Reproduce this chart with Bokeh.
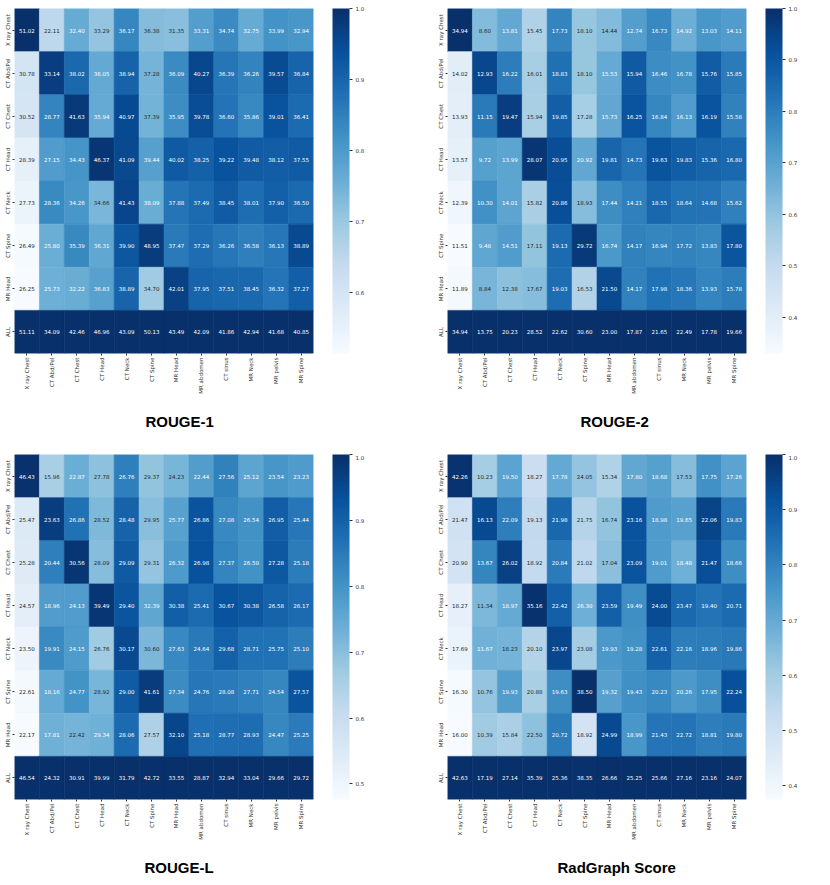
import math
from bokeh.plotting import figure
from bokeh.models import ColumnDataSource, LinearColorMapper, ColorBar, FixedTicker, Title, NumeralTickFormatter
from bokeh.layouts import column, row
from bokeh.core.properties import value
from bokeh.embed import file_html
from bokeh.resources import INLINE

cols = ["X ray Chest", "CT Abd/Pel", "CT Chest", "CT Head", "CT Neck", "CT Spine",
        "MR Head", "MR abdomen", "CT sinus", "MR Neck", "MR pelvis", "MR Spine"]
rows_ = ["X ray Chest", "CT Abd/Pel", "CT Chest", "CT Head", "CT Neck", "CT Spine", "MR Head", "ALL"]

rouge1 = [
    [51.02, 22.11, 32.40, 33.29, 36.17, 36.38, 31.35, 33.31, 34.74, 32.75, 33.99, 32.94],
    [30.78, 33.14, 38.02, 36.05, 38.94, 37.28, 36.09, 40.27, 36.39, 36.26, 39.57, 36.84],
    [30.52, 28.77, 41.63, 35.94, 40.97, 37.39, 35.95, 39.78, 36.60, 35.86, 39.01, 36.41],
    [28.39, 27.15, 34.43, 46.37, 41.09, 39.44, 40.02, 38.25, 39.22, 39.48, 38.12, 37.55],
    [27.73, 28.36, 34.26, 34.66, 41.43, 38.09, 37.88, 37.49, 38.45, 38.01, 37.90, 36.50],
    [26.49, 25.80, 35.39, 36.31, 39.90, 48.95, 37.47, 37.29, 36.26, 36.58, 36.13, 38.89],
    [26.25, 25.73, 32.22, 36.83, 38.89, 34.70, 42.01, 37.95, 37.51, 38.45, 36.32, 37.27],
    [51.11, 34.09, 42.46, 46.96, 43.09, 50.13, 43.49, 42.09, 41.86, 42.94, 41.68, 40.85],
]
rouge2 = [
    [34.94, 8.60, 13.81, 15.45, 17.73, 18.10, 14.44, 12.74, 16.73, 14.92, 13.03, 14.11],
    [14.02, 12.93, 16.22, 16.01, 18.83, 18.10, 15.53, 15.94, 16.46, 16.78, 15.76, 15.85],
    [13.93, 11.15, 19.47, 15.94, 19.85, 17.28, 15.73, 16.25, 16.84, 16.13, 16.19, 15.58],
    [13.57, 9.72, 13.99, 28.07, 20.95, 20.92, 19.81, 14.73, 19.63, 19.83, 15.36, 16.80],
    [12.39, 10.30, 14.01, 15.82, 20.86, 18.93, 17.44, 14.21, 18.55, 18.64, 14.68, 15.62],
    [11.51, 9.48, 14.51, 17.11, 19.13, 29.72, 16.74, 14.17, 16.94, 17.72, 13.83, 17.80],
    [11.89, 8.84, 12.38, 17.67, 19.03, 16.53, 21.50, 14.17, 17.98, 18.36, 13.93, 15.78],
    [34.94, 13.75, 20.23, 28.52, 22.62, 30.60, 23.00, 17.87, 21.65, 22.49, 17.78, 19.66],
]
rougeL = [
    [46.43, 15.96, 22.87, 27.78, 26.76, 29.37, 24.23, 22.44, 27.56, 25.12, 23.54, 23.23],
    [25.47, 23.63, 26.86, 28.52, 28.48, 29.95, 25.77, 26.86, 27.08, 26.54, 26.95, 25.44],
    [25.28, 20.44, 30.56, 28.09, 29.09, 29.31, 26.32, 26.98, 27.37, 26.50, 27.28, 25.18],
    [24.57, 18.96, 24.13, 39.49, 29.40, 32.39, 30.38, 25.41, 30.67, 30.38, 26.58, 26.17],
    [23.50, 19.91, 24.15, 26.76, 30.17, 30.60, 27.63, 24.64, 29.68, 28.71, 25.75, 25.10],
    [22.61, 18.16, 24.77, 28.92, 29.00, 41.61, 27.34, 24.76, 28.08, 27.71, 24.54, 27.57],
    [22.17, 17.81, 22.42, 29.34, 28.06, 27.57, 32.10, 25.18, 28.77, 28.93, 24.47, 25.25],
    [46.54, 24.32, 30.91, 39.99, 31.79, 42.72, 33.55, 28.87, 32.94, 33.04, 29.66, 29.72],
]
radgraph = [
    [42.26, 10.23, 19.50, 18.27, 17.78, 24.05, 15.34, 17.80, 18.68, 17.53, 17.75, 17.26],
    [21.47, 16.13, 22.09, 19.13, 21.98, 21.75, 16.74, 23.16, 18.98, 19.65, 22.06, 19.83],
    [20.90, 13.67, 26.02, 18.92, 20.84, 21.02, 17.04, 23.09, 19.01, 18.48, 21.47, 18.66],
    [18.27, 11.34, 18.97, 35.16, 22.42, 26.30, 23.59, 19.49, 24.00, 23.47, 19.40, 20.71],
    [17.69, 11.67, 18.23, 20.10, 23.97, 23.08, 19.93, 19.28, 22.61, 22.16, 18.96, 19.86],
    [16.30, 10.76, 19.93, 20.88, 19.63, 38.50, 19.32, 19.43, 20.23, 20.26, 17.95, 22.24],
    [16.00, 10.39, 15.84, 22.50, 20.72, 18.92, 24.99, 18.99, 21.43, 22.72, 18.81, 19.80],
    [42.63, 17.19, 27.14, 35.39, 25.36, 38.35, 26.66, 25.25, 25.66, 27.16, 23.16, 24.07],
]

# matplotlib "Blues" anchor colours, light -> dark, interpolated to 256 steps
BLUES9 = ["#f7fbff", "#deebf7", "#c6dbef", "#9ecae1", "#6baed6",
          "#4292c6", "#2171b5", "#08519c", "#08306b"]


def _rgb(h):
    return tuple(int(h[i:i + 2], 16) for i in (1, 3, 5))


def make_palette(n=256):
    anchors = [_rgb(c) for c in BLUES9]
    out = []
    for i in range(n):
        t = i / (n - 1) * (len(anchors) - 1)
        k = min(int(t), len(anchors) - 2)
        f = t - k
        a, b = anchors[k], anchors[k + 1]
        c = tuple(int(round(a[j] + (b[j] - a[j]) * f)) for j in range(3))
        out.append("#%02x%02x%02x" % c)
    return out


PAL = make_palette()


def lum(h):
    r, g, b = [v / 255 for v in _rgb(h)]
    lin = [c / 12.92 if c <= 0.03928 else ((c + 0.055) / 1.055) ** 2.4 for c in (r, g, b)]
    return 0.2126 * lin[0] + 0.7152 * lin[1] + 0.0722 * lin[2]


FONT = "DejaVu Sans"
FS = "5.5px"


def build(title, data, title_offset, top_pad, right_pad, bottom_pad):
    colmax = [max(data[r][c] for r in range(len(rows_))) for c in range(len(cols))]
    xs, ys, ns, labels, tcs = [], [], [], [], []
    for r, rn in enumerate(rows_):
        for c, cn in enumerate(cols):
            xs.append(cn)
            ys.append(rn)
            ns.append(data[r][c] / colmax[c])
            labels.append("%.2f" % data[r][c])
    low = min(ns)
    for n in ns:
        idx = min(int((n - low) / (1.0 - low) * len(PAL)), len(PAL) - 1)
        tcs.append("#262626" if lum(PAL[idx]) > 0.408 else "#ffffff")
    src = ColumnDataSource(dict(x=xs, y=ys, n=ns, label=labels, tc=tcs))
    mapper = LinearColorMapper(palette=PAL, low=low, high=1.0)

    p = figure(x_range=cols, y_range=list(reversed(rows_)), frame_width=299, frame_height=345,
               toolbar_location=None, output_backend="svg", title=None,
               min_border_left=14, min_border_right=right_pad,
               min_border_top=top_pad, min_border_bottom=bottom_pad)
    p.rect(x="x", y="y", width=1, height=1, source=src,
           fill_color={"field": "n", "transform": mapper},
           line_color={"field": "n", "transform": mapper}, line_width=0.6)
    p.text(x="x", y="y", text="label", source=src, text_align="center", text_baseline="middle",
           text_font=value(FONT), text_font_size=FS, text_color="tc")

    p.xaxis.major_label_orientation = math.pi / 2
    p.yaxis.major_label_orientation = "parallel"
    p.axis.axis_line_color = None
    p.axis.major_tick_out = 2
    p.axis.major_tick_in = 0
    p.axis.major_tick_line_color = "#333333"
    p.axis.major_label_standoff = 2
    p.axis.major_label_text_font = FONT
    p.axis.major_label_text_font_size = FS
    p.axis.major_label_text_color = "#333333"
    p.grid.grid_line_color = None
    p.outline_line_color = None

    ticks = [t / 10 for t in range(int(math.ceil(low * 10 - 1e-9)), 11)]
    cb = ColorBar(color_mapper=mapper, width=17, height=345, padding=0, margin=0,
                  location=(19, 0), ticker=FixedTicker(ticks=ticks),
                  formatter=NumeralTickFormatter(format="0.0"),
                  major_tick_in=0, major_tick_out=3, major_tick_line_color="#333333",
                  label_standoff=3, major_label_text_font=FONT,
                  major_label_text_font_size=FS, major_label_text_color="#333333",
                  bar_line_color=None, border_line_color=None)
    p.add_layout(cb, "right")

    t = Title(text=title, align="left", offset=title_offset, text_font="Liberation Sans",
              text_font_size="15px", text_font_style="bold", text_color="#000000", standoff=28)
    p.add_layout(t, "below")
    return p


p1 = build("ROUGE-1", rouge1, 131, 8, 120, 101)
p2 = build("ROUGE-2", rouge2, 133, 8, 60, 101)
p3 = build("ROUGE-L", rougeL, 130, 0, 120, 80)
p4 = build("RadGraph Score", radgraph, 110, 0, 60, 80)

layout = column(row(p1, p2), row(p3, p4))
open("out.html", "w").write(file_html(layout, INLINE))
